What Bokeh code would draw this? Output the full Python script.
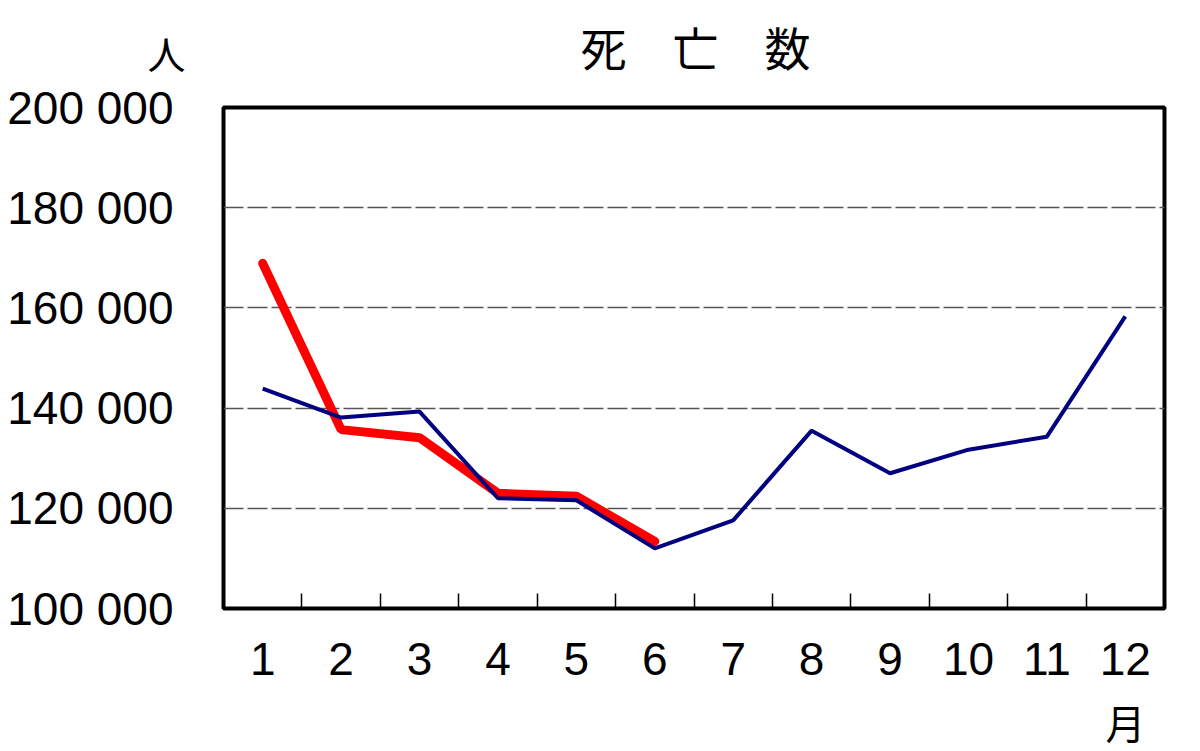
from bokeh.plotting import figure
from bokeh.models import FixedTicker
from bokeh.layouts import column
from bokeh.core.properties import value
from bokeh.embed import file_html
from bokeh.resources import INLINE

# data (deaths per month)
months = [1, 2, 3, 4, 5, 6, 7, 8, 9, 10, 11, 12]
month_labels = ["1", "2", "3", "4", "5", "6", "7", "8", "9", "10", "11", "12"]
prev_year = [143900, 138100, 139300, 122000, 121600, 112000,
             117600, 135500, 127000, 131700, 134300, 158300]
this_months = [1, 2, 3, 4, 5, 6]
this_year = [168900, 135700, 134100, 123000, 122400, 113400]
y_ticks = [100000, 120000, 140000, 160000, 180000, 200000]

title_text = "死　亡　数"
y_unit = "人"
x_unit = "月"

NUM_FONT = "Liberation Sans"
CJK_FONT = "Noto Sans CJK JP"
W = 1191
LEFT, RIGHT = 223, 27


def text_strip(h):
    # strip above/below the chart; column() lines its frame up with the chart's frame,
    # so x here is in page pixels
    f = figure(width=W, height=h, x_range=(LEFT, W - RIGHT), y_range=(0, h),
               min_border=0, output_backend="svg", toolbar_location=None)
    f.xaxis.visible = False
    f.grid.visible = False
    f.outline_line_color = None
    return f


header = text_strip(80)
header.text(x=[695], y=[35], text=[title_text], text_align="center", text_baseline="middle",
            text_font=value(CJK_FONT), text_font_size=value("46px"), text_color="black")
# unit of the y axis sits left of the frame, so it is the header's only y tick label
header.yaxis.ticker = FixedTicker(ticks=[28])
header.yaxis.major_label_overrides = {28: y_unit}
header.yaxis.axis_line_color = None
header.yaxis.major_tick_line_color = None
header.yaxis.minor_tick_line_color = None
header.yaxis.major_label_standoff = 32
header.yaxis.major_label_text_font = CJK_FONT
header.yaxis.major_label_text_font_size = "38px"
header.yaxis.major_label_text_color = "black"

p = figure(width=W, height=617, output_backend="svg", toolbar_location=None,
           x_range=(0.5, 12.5), y_range=(100000, 200000),
           min_border_left=LEFT, min_border_right=RIGHT,
           min_border_top=27, min_border_bottom=89)

p.outline_line_color = "black"
p.outline_line_width = 4
p.background_fill_color = "white"
p.border_fill_color = "white"

# y axis
p.yaxis.ticker = FixedTicker(ticks=y_ticks)
p.yaxis.major_label_overrides = {t: "{:,}".format(t).replace(",", " ") for t in y_ticks}
p.yaxis.axis_line_color = None
p.yaxis.major_tick_line_color = None
p.yaxis.minor_tick_line_color = None
p.yaxis.major_label_standoff = 44
p.yaxis.major_label_text_font = NUM_FONT
p.yaxis.major_label_text_font_size = "46px"
p.yaxis.major_label_text_color = "black"

# x axis: labels on months, short inner ticks between months
p.xaxis.ticker = FixedTicker(ticks=months, minor_ticks=[m + 0.5 for m in months[:-1]])
p.xaxis.major_label_overrides = {m: lab for m, lab in zip(months, month_labels)}
p.xaxis.axis_line_color = None
p.xaxis.major_tick_line_color = None
p.xaxis.minor_tick_line_color = "black"
p.xaxis.minor_tick_line_width = 1.5
p.xaxis.minor_tick_in = 15
p.xaxis.minor_tick_out = 0
p.xaxis.major_label_standoff = 28
p.xaxis.major_label_text_font = NUM_FONT
p.xaxis.major_label_text_font_size = "46px"
p.xaxis.major_label_text_color = "black"

p.xgrid.grid_line_color = None
p.ygrid.ticker = FixedTicker(ticks=y_ticks[1:-1])
p.ygrid.grid_line_color = "#555555"
p.ygrid.grid_line_width = 1.5
p.ygrid.grid_line_dash = "20 4"

p.line(this_months, this_year, line_color="#FF0000", line_width=9, line_cap="round")
p.line(months, prev_year, line_color="#000080", line_width=4)

footer = text_strip(52)
footer.yaxis.visible = False
footer.text(x=[1125], y=[28], text=[x_unit], text_align="center", text_baseline="middle",
            text_font=value(CJK_FONT), text_font_size=value("40px"), text_color="black")

layout = column(header, p, footer, spacing=0)
open("out.html", "w").write(file_html(layout, INLINE))
